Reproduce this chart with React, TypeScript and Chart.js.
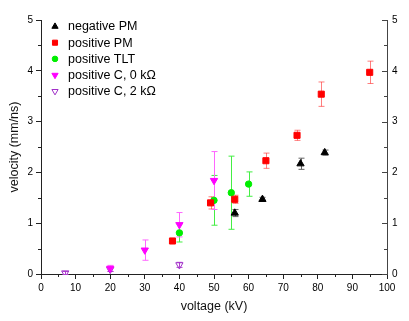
import React, { useEffect, useRef } from 'react';
import { Chart, registerables } from 'chart.js';
import { drawPoint } from 'chart.js/helpers';

Chart.register(...registerables);

const FONT = '"Liberation Sans", Arial, sans-serif';

// negative PM
const negPmX = [56, 64, 75, 82];
const negPmY = [1.2, 1.47, 2.17, 2.39];
const negPmErr = [0.07, 0.04, 0.11, 0.05];
// positive PM
const posPmX = [38, 49, 56, 65, 74, 81, 95];
const posPmY = [0.65, 1.4, 1.47, 2.23, 2.73, 3.54, 3.97];
const posPmErr = [0, 0.12, 0.08, 0.15, 0.1, 0.24, 0.22];
// positive TLT
const tltX = [40, 50, 55, 60];
const tltY = [0.81, 1.45, 1.6, 1.77];
const tltErr = [0.18, 0.49, 0.72, 0.24];
// positive C, 0 kOhm
const c0X = [20, 30, 40, 50];
const c0Y = [0.11, 0.47, 0.97, 1.84];
const c0Err = [0.06, 0.2, 0.24, 0.57];
// positive C, 2 kOhm
const c2X = [7, 20, 40];
const c2Y = [0.02, 0.09, 0.18];
const c2Err = [0.03, 0.04, 0.05];

const labels = ['negative PM', 'positive PM', 'positive TLT', 'positive C, 0 kΩ', 'positive C, 2 kΩ'];
const xTicks = [0, 10, 20, 30, 40, 50, 60, 70, 80, 90, 100];
const yTicks = [0, 1, 2, 3, 4, 5];

const pts = (xs: number[], ys: number[]) => xs.map((x, i) => ({ x, y: ys[i] }));

const errorBarPlugin = {
  id: 'errorBars',
  beforeDatasetsDraw(chart: any) {
    const { ctx, scales } = chart;
    const xs = scales.x, ys = scales.y;
    chart.data.datasets.forEach((ds: any) => {
      const errs: number[] = ds.errs || [];
      ctx.save();
      ctx.strokeStyle = ds.errColor;
      ctx.lineWidth = 1;
      ds.data.forEach((p: any, i: number) => {
        const e = errs[i];
        if (!e) return;
        const px = Math.round(xs.getPixelForValue(p.x)) + 0.5;
        const top = ys.getPixelForValue(p.y + e);
        const bot = ys.getPixelForValue(p.y - e);
        ctx.beginPath();
        ctx.moveTo(px, top);
        ctx.lineTo(px, bot);
        ctx.moveTo(px - 3, top);
        ctx.lineTo(px + 3, top);
        ctx.moveTo(px - 3, bot);
        ctx.lineTo(px + 3, bot);
        ctx.stroke();
      });
      ctx.restore();
    });
  },
};

const axisExtrasPlugin = {
  id: 'axisExtras',
  afterDraw(chart: any) {
    const { ctx, chartArea, scales } = chart;
    const { left, right, bottom } = chartArea;
    ctx.save();
    ctx.lineWidth = 1;
    // left minor ticks (outward)
    ctx.strokeStyle = '#222';
    ctx.beginPath();
    for (let v = 0.5; v < 5; v += 1) {
      const py = Math.round(scales.y.getPixelForValue(v)) + 0.5;
      ctx.moveTo(left - 3, py);
      ctx.lineTo(left, py);
    }
    // bottom minor ticks (outward)
    for (let v = 5; v < 100; v += 10) {
      const px = Math.round(scales.x.getPixelForValue(v)) + 0.5;
      ctx.moveTo(px, bottom);
      ctx.lineTo(px, bottom + 3);
    }
    ctx.stroke();
    // right ticks (inward)
    ctx.strokeStyle = '#444';
    ctx.beginPath();
    for (let v = 0; v <= 5; v += 0.5) {
      const py = Math.round(scales.y2.getPixelForValue(v)) + 0.5;
      const len = Number.isInteger(v) ? 5 : 3;
      ctx.moveTo(right, py);
      ctx.lineTo(right - len, py);
    }
    ctx.stroke();

    // legend
    const x0 = 55, tx = 68, y0 = 26.5, step = 16.2;
    ctx.font = `12.5px ${FONT}`;
    ctx.textBaseline = 'middle';
    ctx.textAlign = 'left';
    chart.data.datasets.forEach((ds: any, i: number) => {
      const y = y0 + i * step;
      ctx.fillStyle = ds.backgroundColor;
      ctx.strokeStyle = ds.borderColor;
      ctx.lineWidth = 1;
      drawPoint(ctx, {
        pointStyle: ds.pointStyle,
        rotation: ds.rotation || 0,
        radius: ds.legendRadius,
        borderWidth: 1,
      }, x0, y);
      ctx.fillStyle = '#000';
      ctx.fillText(ds.label, tx, y + 0.5);
    });
    ctx.restore();
  },
};

export default function App() {
  const ref = useRef<HTMLCanvasElement>(null);
  useEffect(() => {
    const canvas = ref.current!;
    const tickFont = { family: FONT, size: 10 };
    const titleFont = { family: FONT, size: 12.5 };
    const chart = new Chart(canvas, {
      type: 'scatter',
      data: {
        datasets: [
          {
            label: labels[0], data: pts(negPmX, negPmY), errs: negPmErr, errColor: '#666',
            pointStyle: 'triangle', radius: 4.2, legendRadius: 3.6,
            backgroundColor: '#000', borderColor: '#000', borderWidth: 1,
          },
          {
            label: labels[1], data: pts(posPmX, posPmY), errs: posPmErr, errColor: 'rgba(255,40,40,0.6)',
            pointStyle: 'rect', radius: 4.3, legendRadius: 3.6,
            backgroundColor: '#ff0000', borderColor: '#ff0000', borderWidth: 1,
          },
          {
            label: labels[2], data: pts(tltX, tltY), errs: tltErr, errColor: '#44ee44',
            pointStyle: 'circle', radius: 3.2, legendRadius: 2.8,
            backgroundColor: '#00ee00', borderColor: '#00ee00', borderWidth: 1,
          },
          {
            label: labels[3], data: pts(c0X, c0Y), errs: c0Err, errColor: '#ff66ff',
            pointStyle: 'triangle', rotation: 180, radius: 4.2, legendRadius: 3.6,
            backgroundColor: '#ff00ff', borderColor: '#ff00ff', borderWidth: 1,
          },
          {
            label: labels[4], data: pts(c2X, c2Y), errs: c2Err, errColor: '#b040d0',
            pointStyle: 'triangle', rotation: 180, radius: 4.2, legendRadius: 3.6,
            backgroundColor: 'rgba(0,0,0,0)', borderColor: '#a030c8', borderWidth: 1,
          },
        ] as any,
      },
      options: {
        responsive: false,
        animation: false,
        devicePixelRatio: 1,
        layout: { padding: { top: 20, left: 0, right: 0, bottom: 0 } },
        plugins: { legend: { display: false }, tooltip: { enabled: false } },
        scales: {
          x: {
            type: 'linear', position: 'bottom', min: 0, max: 100,
            afterBuildTicks: (s: any) => { s.ticks = xTicks.map(v => ({ value: v })); },
            afterFit: (s: any) => { s.height = 47; },
            ticks: { font: tickFont, color: '#000', padding: 3, maxRotation: 0 },
            grid: { drawOnChartArea: false, drawTicks: true, tickLength: 5, color: '#222' },
            border: { color: '#222', width: 1 },
            title: { display: true, text: 'voltage (kV)', font: titleFont, color: '#111', padding: { top: 0, bottom: 7 } },
          },
          y: {
            type: 'linear', position: 'left', min: 0, max: 5,
            afterBuildTicks: (s: any) => { s.ticks = yTicks.map(v => ({ value: v })); },
            afterFit: (s: any) => { s.width = 41; },
            ticks: { font: tickFont, color: '#000', padding: 3 },
            grid: { drawOnChartArea: false, drawTicks: true, tickLength: 5, color: '#222' },
            border: { color: '#222', width: 1 },
            title: { display: true, text: 'velocity (mm/ns)', font: titleFont, color: '#111', padding: { top: 7.5, bottom: 0 } },
          },
          y2: {
            type: 'linear', position: 'right', min: 0, max: 5,
            afterBuildTicks: (s: any) => { s.ticks = yTicks.map(v => ({ value: v })); },
            afterFit: (s: any) => { s.width = 22; },
            ticks: { font: tickFont, color: '#000', padding: 5 },
            grid: { drawOnChartArea: false, drawTicks: false, color: '#444' },
            border: { color: '#444', width: 1 },
          },
        },
      } as any,
      plugins: [errorBarPlugin, axisExtrasPlugin],
    });
    return () => chart.destroy();
  }, []);
  return (
    <div style={{ position: 'fixed', left: 0, top: 0, width: 409, height: 321, background: '#fff' }}>
      <canvas ref={ref} width={409} height={321} style={{ display: 'block' }} />
    </div>
  );
}
